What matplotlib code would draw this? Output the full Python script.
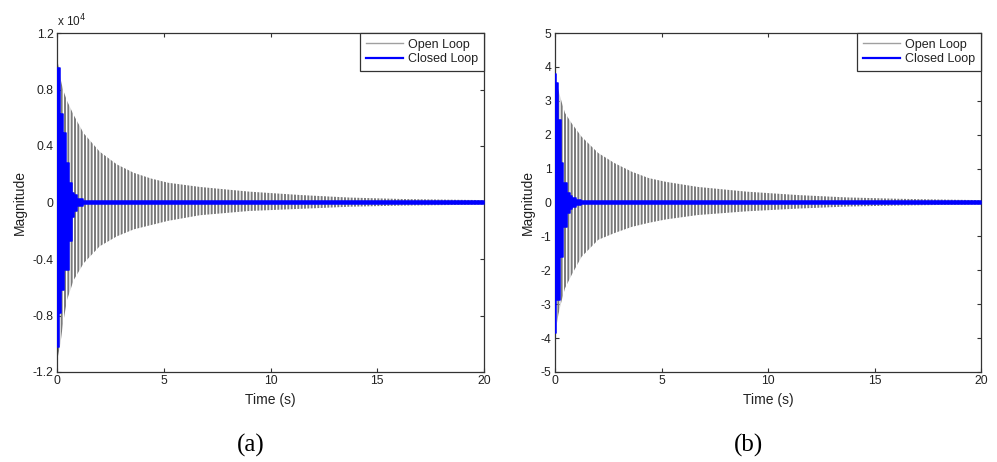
import numpy as np
import matplotlib
matplotlib.use("Agg")
import matplotlib.pyplot as plt
from matplotlib.lines import Line2D
from matplotlib.ticker import FuncFormatter

plt.rcParams['font.family'] = ['Liberation Sans', 'DejaVu Sans']
plt.rcParams['axes.unicode_minus'] = False
plt.rcParams['hatch.linewidth'] = 1.4

# ---------------- data ----------------
time_label = "Time (s)"
mag_label = "Magnitude"
legend_labels = ["Open Loop", "Closed Loop"]
panel_labels = ["(a)", "(b)"]
x_ticks = [0, 5, 10, 15, 20]

# Panel (a): envelope of the open-loop response (real units)
a_open_t = [0.0, 0.03, 0.16, 0.28, 0.47, 0.78, 1.25, 2.0, 2.8, 3.6, 4.4, 5.2,
            6.7, 9.0, 11.4, 13.7, 16.1, 18.4, 20.0]
a_open_up = [10600, 10000, 8800, 8000, 7200, 6200, 4900, 3600, 2700, 2100, 1700,
             1400, 1100, 770, 530, 350, 250, 200, 170]
a_open_lo = [-11500, -11000, -10000, -8600, -6900, -5500, -4300, -3100, -2400,
             -1900, -1600, -1300, -900, -600, -450, -300, -220, -180, -150]
# Panel (a): envelope of the closed-loop response (step blocks)
a_closed_t = [0.0, 0.08, 0.12, 0.2, 0.28, 0.34, 0.44, 0.55, 0.7, 0.8, 0.94, 1.2, 20.0]
a_closed_up = [9500, 9500, 6300, 6300, 4900, 4900, 2800, 1400, 700, 500, 250, 100, 100]
a_closed_lo = [-10200, -7800, -7800, -6200, -6200, -4800, -4800, -2700, -1000,
               -600, -250, -100, -100]
a_yticks = [-12000, -8000, -4000, 0, 4000, 8000, 12000]

# Panel (b): envelope of the open-loop response
b_open_t = [0.0, 0.03, 0.16, 0.31, 0.47, 0.78, 1.25, 2.03, 2.8, 3.6, 4.4, 5.2,
            6.7, 9.0, 11.4, 13.7, 16.1, 18.4, 20.0]
b_open_up = [3.8, 3.6, 3.32, 2.97, 2.64, 2.34, 1.94, 1.46, 1.16, 0.91, 0.72, 0.61,
             0.46, 0.32, 0.22, 0.15, 0.11, 0.085, 0.07]
b_open_lo = [-3.95, -3.8, -3.3, -2.9, -2.53, -2.14, -1.6, -1.1, -0.9, -0.72, -0.6,
             -0.5, -0.37, -0.26, -0.18, -0.12, -0.09, -0.07, -0.06]
# Panel (b): envelope of the closed-loop response
b_closed_t = [0.0, 0.06, 0.12, 0.23, 0.28, 0.39, 0.55, 0.7, 0.8, 1.0, 1.2, 20.0]
b_closed_up = [3.8, 3.52, 2.43, 2.43, 1.16, 0.57, 0.28, 0.2, 0.12, 0.06, 0.04, 0.04]
b_closed_lo = [-3.86, -2.88, -2.88, -1.6, -1.6, -0.72, -0.3, -0.2, -0.12, -0.06,
               -0.04, -0.04]
b_yticks = [-5, -4, -3, -2, -1, 0, 1, 2, 3, 4, 5]

OPEN_COLOR = '#7a7a7a'
CLOSED_COLOR = '#0000ff'
AX_COLOR = '#333333'
TXT_COLOR = '#222222'

fig = plt.figure(figsize=(9.97, 4.62), dpi=100)
fig.patch.set_facecolor('white')

axA = fig.add_axes([57 / 997, 90 / 462, 427 / 997, 339 / 462])
axB = fig.add_axes([555 / 997, 90 / 462, 426 / 997, 339 / 462])

panels = [
    (axA, a_open_t, a_open_up, a_open_lo, a_closed_t, a_closed_up, a_closed_lo,
     a_yticks, (-12000, 12000)),
    (axB, b_open_t, b_open_up, b_open_lo, b_closed_t, b_closed_up, b_closed_lo,
     b_yticks, (-5, 5)),
]

for (ax, ot, ou, ol, ct, cu, cl, yt, ylim) in panels:
    ax.fill_between(ot, ol, ou, facecolor='none', edgecolor=OPEN_COLOR,
                    hatch='|||||', linewidth=0, zorder=2)
    ax.fill_between(ct, cl, cu, step='post', facecolor=CLOSED_COLOR,
                    edgecolor=CLOSED_COLOR, linewidth=1.1, zorder=3)
    ax.set_xlim(0, 20)
    ax.set_ylim(*ylim)
    ax.set_xticks(x_ticks)
    ax.set_yticks(yt)
    ax.tick_params(direction='in', top=True, right=True, length=3, width=0.8,
                   color=AX_COLOR, labelcolor=TXT_COLOR, labelsize=8.7, pad=2.5)
    for s in ax.spines.values():
        s.set_color(AX_COLOR)
        s.set_linewidth(0.9)
    ax.set_xlabel(time_label, fontsize=10, color=TXT_COLOR, labelpad=4)
    ax.set_ylabel(mag_label, fontsize=10, color=TXT_COLOR, labelpad=4)
    handles = [Line2D([], [], color='#a0a0a0', lw=1.0),
               Line2D([], [], color=CLOSED_COLOR, lw=1.6)]
    leg = ax.legend(handles, legend_labels, loc='upper right', fontsize=9,
                    frameon=True, fancybox=False, framealpha=1, borderaxespad=0,
                    handlelength=3.0, handletextpad=0.4, borderpad=0.45,
                    labelspacing=0.2)
    leg.get_frame().set_edgecolor(AX_COLOR)
    leg.get_frame().set_linewidth(0.9)
    for txt in leg.get_texts():
        txt.set_color(TXT_COLOR)

axA.yaxis.set_major_formatter(FuncFormatter(lambda v, p: '%g' % (v / 1e4)))
axB.yaxis.set_major_formatter(FuncFormatter(lambda v, p: '%g' % v))
axA.text(0.0, 1.012, r'x 10$^{4}$', transform=axA.transAxes, fontsize=8.5,
         color=TXT_COLOR, ha='left', va='bottom')

fig.text(251 / 997, 1 - 445 / 462, panel_labels[0], fontsize=18,
         family=['Liberation Serif', 'DejaVu Serif'], ha='center', va='center')
fig.text(748 / 997, 1 - 445 / 462, panel_labels[1], fontsize=18,
         family=['Liberation Serif', 'DejaVu Serif'], ha='center', va='center')

fig.savefig('out.png', dpi=100, facecolor='white')
